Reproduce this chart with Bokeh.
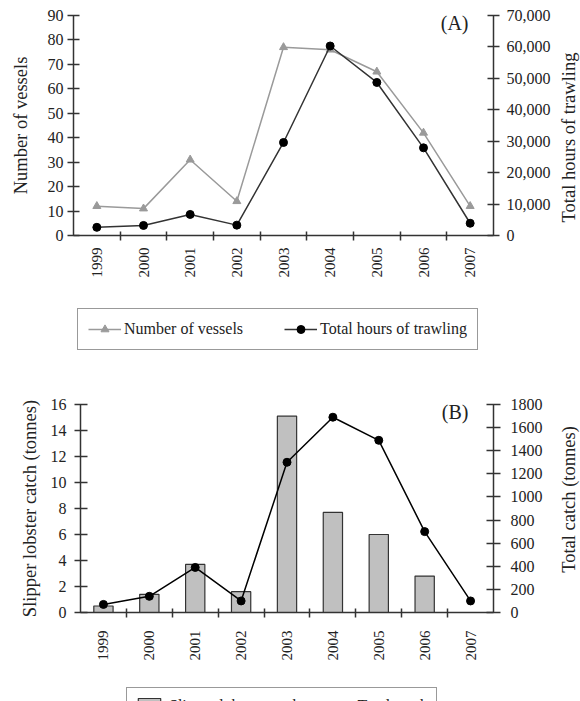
from math import pi
from bokeh.plotting import figure
from bokeh.models import (ColumnDataSource, FactorRange, Range1d, LinearAxis, CategoricalAxis,
                          FixedTicker, NumeralTickFormatter, Legend, LegendItem, CategoricalScale,
                          Label)
from bokeh.layouts import column, row
from bokeh.embed import file_html
from bokeh.resources import INLINE

# ---------------- data ----------------
years = ["1999", "2000", "2001", "2002", "2003", "2004", "2005", "2006", "2007"]
vessels = [12, 11, 31, 14, 77, 76, 67, 42, 12]
trawl_hours = [2600, 3200, 6700, 3300, 29600, 60300, 48700, 27900, 3900]
slipper_catch = [0.5, 1.4, 3.7, 1.6, 15.1, 7.7, 6.0, 2.8, 0.0]
total_catch = [70, 140, 390, 100, 1300, 1690, 1490, 700, 100]

a_left_ticks = [0, 10, 20, 30, 40, 50, 60, 70, 80, 90]
a_right_ticks = [0, 10000, 20000, 30000, 40000, 50000, 60000, 70000]
b_left_ticks = [0, 2, 4, 6, 8, 10, 12, 14, 16]
b_right_ticks = [0, 200, 400, 600, 800, 1000, 1200, 1400, 1600, 1800]
# boundary positions between the year categories (for the tick marks)
bounds = ["b%d" % i for i in range(len(years) + 1)]

FONT = "Liberation Serif"
INK = "#222222"
AXC = "#333333"
GREY = "#9a9a9a"
NAN = float("nan")


def style_axis(ax, tin, tout, standoff, lab_standoff):
    ax.axis_line_color = AXC
    ax.axis_line_width = 1.5
    ax.major_tick_line_color = AXC
    ax.major_tick_line_width = 1.5
    ax.major_tick_in = tin
    ax.major_tick_out = tout
    ax.minor_tick_line_color = None
    ax.major_label_text_font = FONT
    ax.major_label_text_font_size = "16px"
    ax.major_label_text_color = INK
    ax.major_label_standoff = standoff
    ax.axis_label_text_font = FONT
    ax.axis_label_text_font_size = "18.5px"
    ax.axis_label_text_font_style = "normal"
    ax.axis_label_text_color = INK
    ax.axis_label_standoff = lab_standoff


def x_axes(p, cat_standoff):
    xb = CategoricalAxis(x_range_name="xb")
    style_axis(xb, 4, 5, 0, 0)
    xb.major_label_text_font_size = "1px"
    xb.major_label_text_color = None
    p.add_layout(xb, "below")
    xc = CategoricalAxis()
    style_axis(xc, 0, 0, cat_standoff, 0)
    xc.axis_line_color = None
    xc.major_tick_line_color = None
    xc.major_label_text_font_size = "15px"
    xc.major_label_orientation = pi / 2
    p.add_layout(xc, "below")


def text_label(x, y, text, size, align="center"):
    return Label(x=x, y=y, x_units="screen", y_units="screen", text=text,
                 text_align=align, text_baseline="middle", text_font=FONT,
                 text_font_size=size, text_color=INK)


def plain_fig(width, height, left, right, top, bottom):
    p = figure(width=width, height=height, x_range=Range1d(0, 1), y_range=Range1d(0, 1),
               x_axis_location=None, y_axis_location=None, output_backend="svg",
               toolbar_location=None, min_border_left=left, min_border_right=right,
               min_border_top=top, min_border_bottom=bottom)
    p.frame_align = False
    p.outline_line_color = None
    p.xgrid.visible = False
    p.ygrid.visible = False
    return p


def base_fig(height, left, right, top, bottom, ymax):
    p = figure(width=555, height=height, x_range=FactorRange(*years), y_range=Range1d(0, ymax),
               x_axis_location=None, y_axis_location=None, output_backend="svg",
               toolbar_location=None, min_border_left=left, min_border_right=right,
               min_border_top=top, min_border_bottom=bottom)
    p.frame_align = False
    p.outline_line_color = None
    p.xgrid.visible = False
    p.ygrid.visible = False
    p.extra_x_ranges = {"xb": FactorRange(*bounds, range_padding=-0.5,
                                          range_padding_units="absolute")}
    p.extra_x_scales = {"xb": CategoricalScale()}
    return p


def side_title(height, top, bottom, text):
    # narrow strip whose left-axis title reads bottom-to-top, like the reference's right titles
    t = plain_fig(25, height, 24, 0, top, bottom)
    ax = LinearAxis(ticker=FixedTicker(ticks=[]), axis_label=text)
    style_axis(ax, 0, 0, 0, 2)
    ax.axis_line_color = None
    ax.major_tick_line_color = None
    t.add_layout(ax, "left")
    return t


def legend_style(items, loc, padding, spacing, gw, standoff):
    return Legend(items=items, location=loc, orientation="horizontal", padding=padding,
                  margin=0, spacing=spacing, glyph_width=gw, glyph_height=20, label_height=20,
                  label_standoff=standoff, border_line_color=AXC, border_line_width=1.5,
                  background_fill_alpha=1, label_text_font=FONT, label_text_font_size="16px",
                  label_text_color=INK)


# ---------------- panel A ----------------
srcA = ColumnDataSource(dict(year=years, vessels=vessels, hours=trawl_hours))
pA = base_fig(295, 73, 62, 15, 60, 90)
pA.extra_y_ranges = {"hrs": Range1d(0, 70000)}

la = LinearAxis(ticker=FixedTicker(ticks=a_left_ticks), axis_label="Number of vessels")
style_axis(la, 6, 6, 4, 14)
pA.add_layout(la, "left")
ra = LinearAxis(y_range_name="hrs", ticker=FixedTicker(ticks=a_right_ticks),
                formatter=NumeralTickFormatter(format="0,0"))
style_axis(ra, 6, 6, 7, 6)
pA.add_layout(ra, "right")
pA.add_layout(text_label(395, 213, "(A)", "20px", align="right"))
x_axes(pA, 7)

pA.line("year", "vessels", source=srcA, line_color=GREY, line_width=1.5)
pA.scatter("year", "vessels", source=srcA, marker="triangle", size=8,
           fill_color=GREY, line_color=GREY)
pA.line("year", "hours", source=srcA, y_range_name="hrs", line_color=AXC, line_width=1.5)
pA.scatter("year", "hours", source=srcA, y_range_name="hrs", marker="circle", size=8,
           fill_color="black", line_color="black")
tA = side_title(295, 39, 60, "Total hours of trawling")

# legend A (own strip; key glyphs use the same styles, with no visible data)
gA = plain_fig(580, 75, 0, 0, 0, 0)
k1 = gA.line(x=[NAN], y=[NAN], line_color=GREY, line_width=1.5)
k2 = gA.scatter(x=[NAN], y=[NAN], marker="triangle", size=7, fill_color=GREY, line_color=GREY)
k3 = gA.line(x=[NAN], y=[NAN], line_color=AXC, line_width=1.5)
k4 = gA.scatter(x=[NAN], y=[NAN], marker="circle", size=7, fill_color="black", line_color="black")
gA.add_layout(legend_style([LegendItem(label="Number of vessels", renderers=[k1, k2]),
                            LegendItem(label="Total hours of trawling", renderers=[k3, k4])],
                           (77, 20), 10, 41, 33, 3))

# ---------------- panel B ----------------
srcB = ColumnDataSource(dict(year=years, slipper=slipper_catch, total=total_catch))
pB = base_fig(310, 80, 62, 34, 68, 16)
pB.extra_y_ranges = {"tot": Range1d(0, 1800)}

lb = LinearAxis(ticker=FixedTicker(ticks=b_left_ticks), axis_label="Slipper lobster catch (tonnes)")
style_axis(lb, 7, 6, 8, 8)
pB.add_layout(lb, "left")
rb = LinearAxis(y_range_name="tot", ticker=FixedTicker(ticks=b_right_ticks))
style_axis(rb, 7, 7, 10, 10)
pB.add_layout(rb, "right")
pB.add_layout(text_label(388, 201, "(B)", "20px", align="right"))
x_axes(pB, 13)

pB.vbar(x="year", top="slipper", width=0.42, source=srcB, fill_color="#c0c0c0",
        line_color=AXC, line_width=1.2)
pB.line("year", "total", source=srcB, y_range_name="tot", line_color="black", line_width=1.5)
pB.scatter("year", "total", source=srcB, y_range_name="tot", marker="circle", size=8,
           fill_color="black", line_color="black")
tB = side_title(310, 16, 68, "Total catch (tonnes)")

# legend B (own strip, cut by the page bottom as in the reference)
gB = plain_fig(580, 21, 0, 0, 0, 0)
m1 = gB.vbar(x=[NAN], top=[NAN], width=0.4, fill_color="#c0c0c0", line_color=AXC, line_width=1.2)
m2 = gB.line(x=[NAN], y=[NAN], line_color="black", line_width=1.5)
m3 = gB.scatter(x=[NAN], y=[NAN], marker="circle", size=7, fill_color="black", line_color="black")
gB.add_layout(legend_style([LegendItem(label="Slipper lobster catch", renderers=[m1]),
                            LegendItem(label="Total catch", renderers=[m2, m3])],
                           (126, -24), 8, 23, 28, 6))

layout = column(row(pA, tA, spacing=0), gA, row(pB, tB, spacing=0), gB, spacing=0)
open("out.html", "w").write(file_html(layout, INLINE))
